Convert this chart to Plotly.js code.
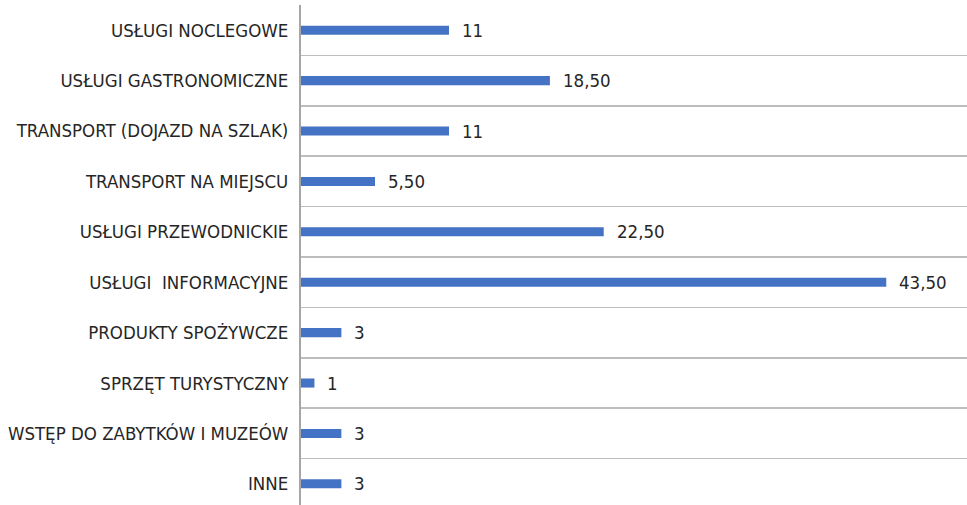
<!DOCTYPE html>
<html>
<head>
<meta charset="utf-8">
<script src="https://cdn.plot.ly/plotly-3.0.1.min.js"></script>
<style>html,body{margin:0;padding:0;background:#fff;}#chart{width:967px;height:505px;}</style>
</head>
<body>
<div id="chart"></div>
<script>
const categories = [
  "USŁUGI NOCLEGOWE",
  "USŁUGI GASTRONOMICZNE",
  "TRANSPORT (DOJAZD NA SZLAK)",
  "TRANSPORT NA MIEJSCU",
  "USŁUGI PRZEWODNICKIE",
  "USŁUGI\u00a0 INFORMACYJNE",
  "PRODUKTY SPOŻYWCZE",
  "SPRZĘT TURYSTYCZNY",
  "WSTĘP DO ZABYTKÓW I MUZEÓW",
  "INNE"
];
const values = [11, 18.5, 11, 5.5, 22.5, 43.5, 3, 1, 3, 3];
const valueLabels = ["11", "18,50", "11", "5,50", "22,50", "43,50", "3", "1", "3", "3"];

const FONT = '"DejaVu Sans Condensed", "Liberation Sans Narrow", "Roboto", sans-serif';

const trace = {
  type: 'bar',
  orientation: 'h',
  x: values,
  y: categories,
  width: 0.18,
  marker: {color: '#4472C4'},
  hoverinfo: 'none'
};

const annotations = categories.map((c, i) => ({
  x: values[i], y: c, xref: 'x', yref: 'y',
  text: valueLabels[i], showarrow: false,
  xanchor: 'left', yanchor: 'middle', xshift: 11,
  font: {family: FONT, size: 18.5, color: '#262626'}
}));

const layout = {
  width: 967, height: 505,
  margin: {l: 301, r: 0, t: 5, b: 0, pad: 0},
  paper_bgcolor: '#fff', plot_bgcolor: '#fff',
  showlegend: false,
  xaxis: {
    range: [0, 49.5], showgrid: false, zeroline: false,
    showticklabels: false, showline: false, ticks: ''
  },
  yaxis: {
    type: 'category',
    range: [9.42, -0.5],
    tickson: 'boundaries',
    showgrid: true, gridcolor: '#bdbdbd', gridwidth: 1.5,
    showline: true, linecolor: '#a6a6a6', linewidth: 2,
    ticks: '', ticklabelstandoff: 7,
    tickfont: {family: FONT, size: 18.5, color: '#262626'},
    zeroline: false, automargin: false
  },
  annotations: annotations
};

Plotly.newPlot('chart', [trace], layout, {displayModeBar: false, staticPlot: true});
</script>
</body>
</html>
